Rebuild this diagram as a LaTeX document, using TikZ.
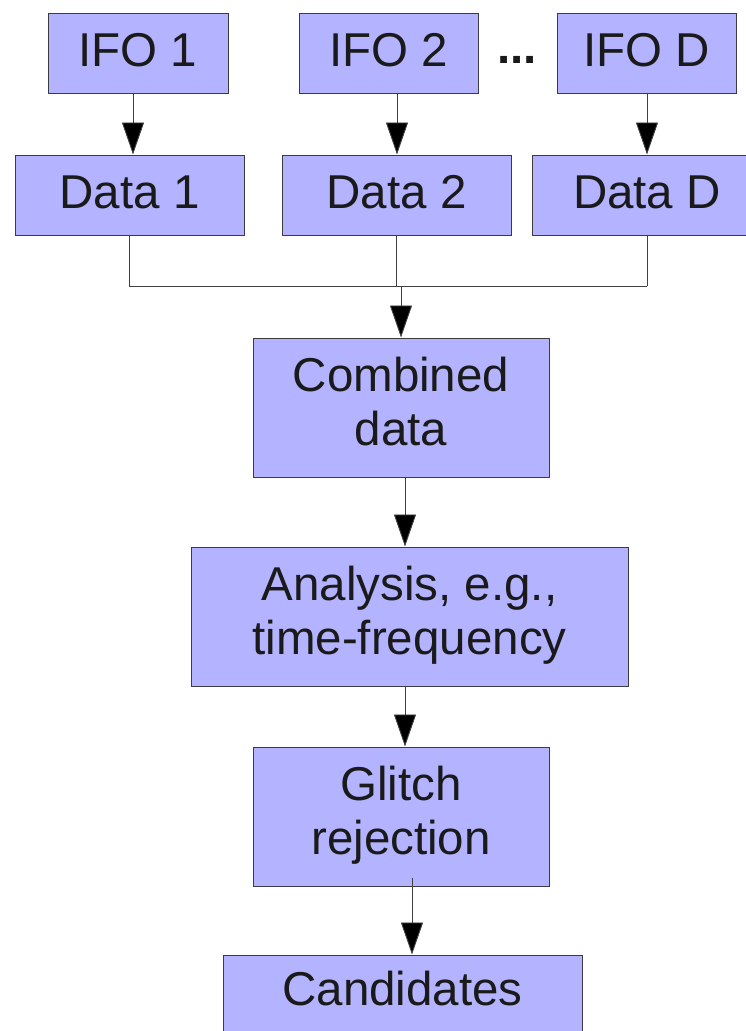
\documentclass[tikz,border=0pt]{standalone}
\usepackage{fontspec}
\setmainfont{Liberation Sans}
\usetikzlibrary{arrows.meta}
\definecolor{boxfill}{RGB}{179,179,255}
\definecolor{boxline}{RGB}{60,60,60}
\definecolor{txt}{RGB}{26,26,26}
\begin{document}
\begin{tikzpicture}[x=1pt,y=-1pt,
  box/.style={draw=boxline,fill=boxfill,line width=1pt,inner sep=0pt,align=center,
    text=txt,font=\fontsize{47.5}{54}\selectfont},
  one/.style={box,text height=36pt,text depth=10pt},
  conn/.style={draw=black!75,line width=0.9pt},
  arr/.style={conn,-{Triangle[width=22pt,length=32pt,fill=black]}}]
\useasboundingbox (0,0) rectangle (746,1031);
% top row
\node[one,minimum width=180pt,minimum height=80pt] (i1) at (138,53) {IFO 1};
\node[one,minimum width=179pt,minimum height=80pt] (i2) at (388.5,53) {IFO 2};
\node[one,minimum width=179pt,minimum height=80pt] (iD) at (646.5,53) {IFO D};
\node[inner sep=0pt,anchor=base,text=txt,font=\fontsize{47.5}{54}\selectfont\bfseries] (dots) at (517,63) {...};
% data row
\node[one,minimum width=229pt,minimum height=80pt] (d1) at (129.5,195) {Data 1};
\node[one,minimum width=229pt,minimum height=80pt] (d2) at (396.5,195) {Data 2};
\node[one,minimum width=230pt,minimum height=80pt] (dD) at (647,195) {Data D};
% pipeline
\node[box,minimum width=296pt,minimum height=139pt] (comb) at (401,407.5) {\strut Combined\\ data\strut};
\node[box,minimum width=437pt,minimum height=139pt] (an) at (409.5,616.5) {\strut Analysis, e.g.,\\ time-frequency\strut};
\node[box,minimum width=296pt,minimum height=139pt] (gl) at (401,816.5) {\strut Glitch\\ rejection\strut};
\node[box,text height=36pt,text depth=16pt,minimum width=359pt,minimum height=80pt] (cand) at (402.5,995) {Candidates};
% junction
\coordinate (jr) at (647,286);
\coordinate (j) at (401,286);
% connectors
\draw[arr] ([xshift=-5pt]i1.south) -- ([xshift=-5pt]i1.south |- d1.north);
\draw[arr] ([xshift=8.5pt]i2.south) -- ([xshift=8.5pt]i2.south |- d2.north);
\draw[arr] ([xshift=0.5pt]iD.south) -- ([xshift=0.5pt]iD.south |- dD.north);
\draw[conn] (d1.south) |- (jr);
\draw[conn] (d2.south) -- (d2.south |- jr);
\draw[conn] (dD.south) -- (jr);
\draw[arr] (j) -- (comb.north);
\draw[arr] ([xshift=4pt]comb.south) -- ([xshift=4pt]comb.south |- an.north);
\draw[arr] ([xshift=-4.5pt]an.south) -- ([xshift=-4.5pt]an.south |- gl.north);
\draw[arr] ([xshift=11pt,yshift=9pt]gl.south) -- ([xshift=11pt]gl.south |- cand.north);
\end{tikzpicture}
\end{document}
